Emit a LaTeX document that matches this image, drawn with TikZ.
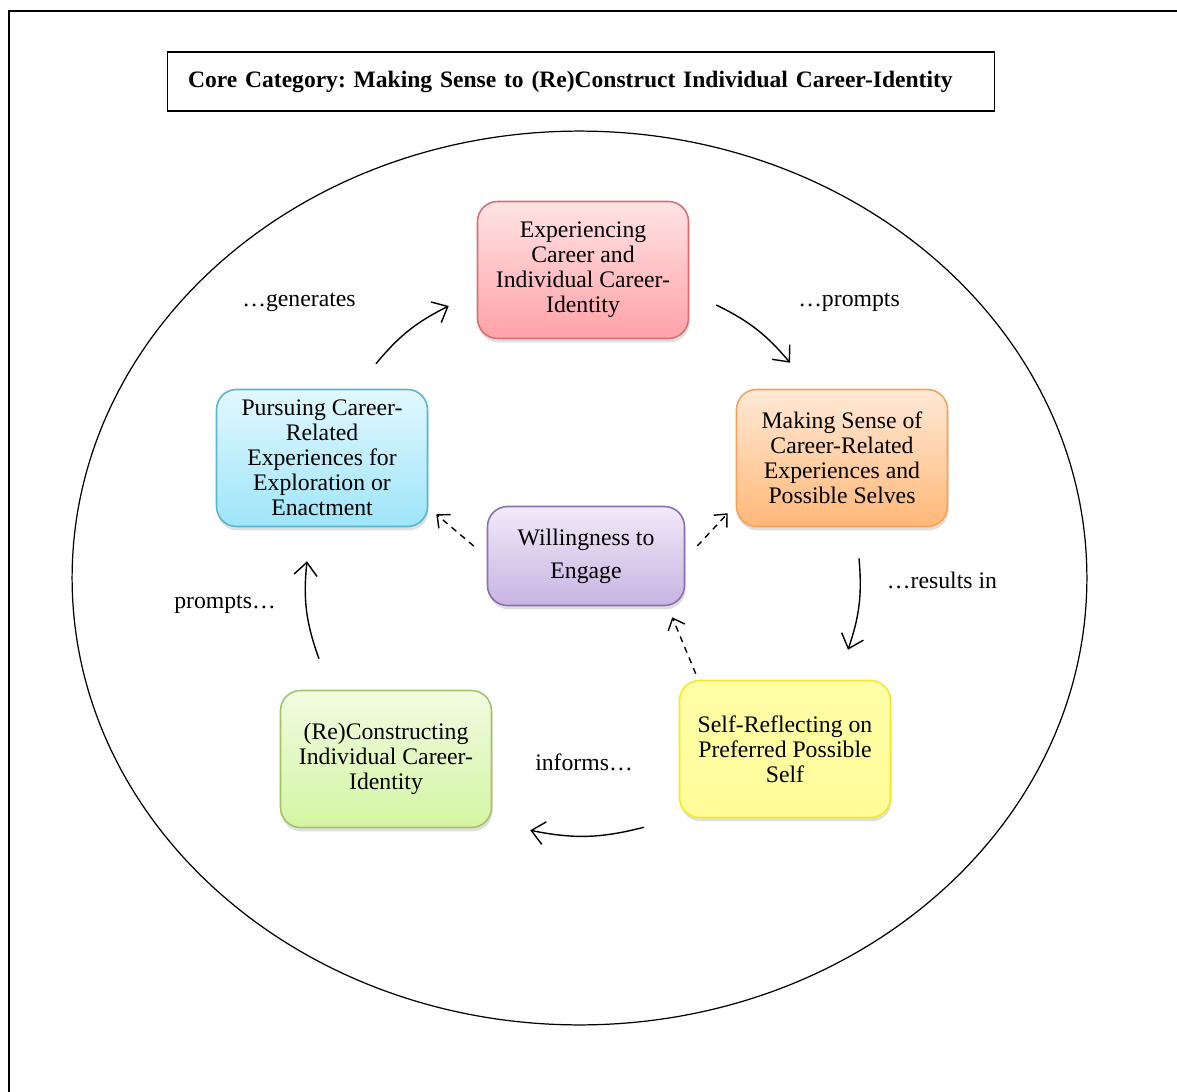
\documentclass[tikz,border=0pt]{standalone}
\usepackage{fontspec}
\setmainfont{Liberation Serif}
\usetikzlibrary{arrows.meta,shadows,calc}
\frenchspacing

\definecolor{redline}{HTML}{D27477}
\definecolor{redtop}{HTML}{FFE3E4}
\definecolor{redbot}{HTML}{FFA2A7}
\definecolor{orgline}{HTML}{F5A25E}
\definecolor{orgtop}{HTML}{FFE9D6}
\definecolor{orgbot}{HTML}{FFB878}
\definecolor{bluline}{HTML}{5BB6CE}
\definecolor{blutop}{HTML}{E2F8FE}
\definecolor{blubot}{HTML}{9EE5FA}
\definecolor{purline}{HTML}{8C70AE}
\definecolor{purtop}{HTML}{F0EAF8}
\definecolor{purbot}{HTML}{C8B3E2}
\definecolor{yelline}{HTML}{F2EC1E}
\definecolor{yeltop}{HTML}{FFFFA8}
\definecolor{yelbot}{HTML}{FFFC98}
\definecolor{grnline}{HTML}{A3C26C}
\definecolor{grntop}{HTML}{F1FBE2}
\definecolor{grnbot}{HTML}{D4F5A2}

\begin{document}
\begin{tikzpicture}[x=0.02cm,y=-0.02cm,
    every node/.style={font=\fontsize{13.5}{14.2}\selectfont},
    stage/.style={draw,line width=0.9pt,rounded corners=0.4cm,align=center,
        minimum width=4.22cm,minimum height=2.74cm,inner sep=2pt,
        drop shadow={shadow xshift=0.6pt,shadow yshift=-2.2pt,opacity=0.25}},
    flow/.style={-{Straight Barb[length=2.6mm,width=4.6mm]},line width=0.8pt},
    pull/.style={-{Straight Barb[length=2mm,width=3.6mm]},line width=0.8pt,dash pattern=on 3.5pt off 3pt}]
    \useasboundingbox (0,0) rectangle (1177,1092);
    \draw[line width=0.6pt] (9,1092) -- (9,11) -- (1177,11);

    \node[draw,line width=0.6pt,minimum width=16.56cm,minimum height=1.18cm,
        text width=15.72cm,inner xsep=0.42cm,align=left,
        font=\fontsize{13.4}{14.2}\selectfont\bfseries] (title) at (581,81.5)
        {Core Category: Making Sense to (Re)Construct Individual Career-Identity};

    \draw[line width=0.7pt] (579.5,578) ellipse [x radius=10.15cm, y radius=8.94cm];

    \node[stage,draw=redline,top color=redtop,bottom color=redbot] (exper) at (583,270)
        {Experiencing\\Career and\\Individual Career-\\Identity};
    \node[stage,draw=orgline,top color=orgtop,bottom color=orgbot] (sense) at (842,458)
        {Making Sense of\\Career-Related\\Experiences and\\Possible Selves};
    \node[stage,draw=bluline,top color=blutop,bottom color=blubot] (pursue) at (322,458)
        {Pursuing Career-\\Related\\Experiences for\\Exploration or\\Enactment};
    \node[stage,draw=purline,top color=purtop,bottom color=purbot,
        minimum width=3.94cm,minimum height=1.98cm,
        font=\fontsize{13.5}{18.8}\selectfont] (willing) at (586,556)
        {Willingness to\\Engage};
    \node[stage,draw=yelline,top color=yeltop,bottom color=yelbot] (reflect) at (785,749)
        {Self-Reflecting on\\Preferred Possible\\Self};
    \node[stage,draw=grnline,top color=grntop,bottom color=grnbot] (recon) at (386,759)
        {(Re)Constructing\\Individual Career-\\Identity};

    \node (gen) at (299,302) {…generates};
    \node (prm1) at (849,302) {…prompts};
    \node (res) at (942,580) {…results in};
    \node (prm2) at (225,604) {prompts…};
    \node (inf) at (584,762) {informs…};

    \draw[flow] ([shift={(54,-25)}]pursue.north) to[bend left=12] ([shift={(-28,36)}]exper.west);
    \draw[flow] ([shift={(27,35)}]exper.east) to[bend left=12] ([shift={(-52,-26)}]sense.north);
    \draw[flow] ([shift={(17,31)}]sense.south) to[bend left=12] ([shift={(63,-30)}]reflect.north);
    \draw[flow] ([shift={(-35,9)}]reflect.south west) to[bend left=13] ([shift={(38,2)}]recon.south east);
    \draw[flow] ([shift={(-67,-31)}]recon.north) to[bend left=13] ([shift={(-15,34)}]pursue.south);

    \draw[pull] ([shift={(-13,-10)}]willing.west) -- ([shift={(8,-13)}]pursue.south east);
    \draw[pull] ([shift={(12,-10)}]willing.east) -- ([shift={(-8,-14)}]sense.south west);
    \draw[pull] ([shift={(17,-6)}]reflect.north west) -- ([shift={(-13,11)}]willing.south east);
\end{tikzpicture}
\end{document}
